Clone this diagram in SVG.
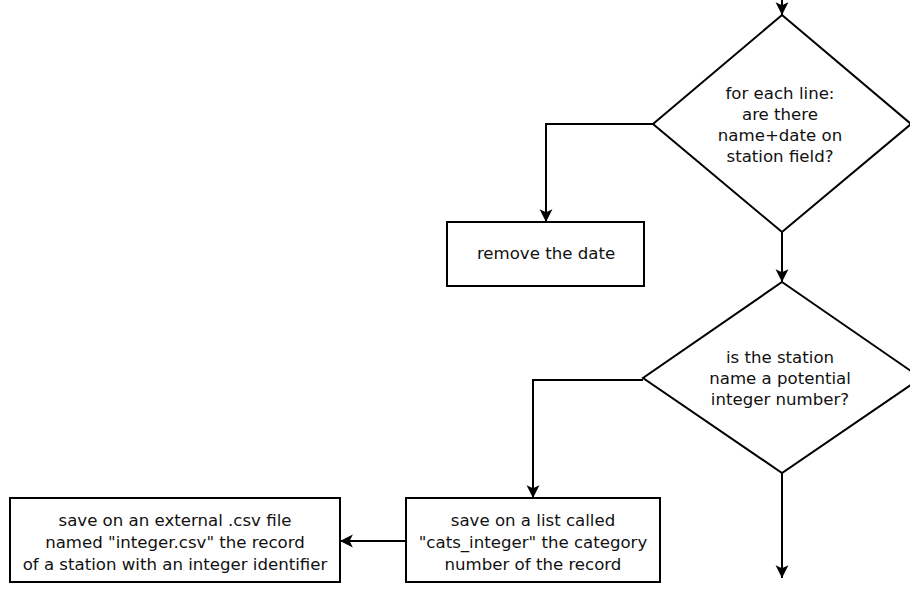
<svg xmlns="http://www.w3.org/2000/svg" width="910" height="603" viewBox="0 0 910 603">
  <defs>
    <marker id="arrow" viewBox="0 0 14 14" refX="13" refY="7" markerWidth="15" markerHeight="15" markerUnits="userSpaceOnUse" orient="auto">
      <path d="M13,7 L1,1 L4,7 L1,13 Z" fill="#000"/>
    </marker>
  </defs>
  <style>
    .shape { fill: #fff; stroke: #000; stroke-width: 2; }
    .edge { fill: none; stroke: #000; stroke-width: 2; marker-end: url(#arrow); }
    .label { font-family: "DejaVu Sans", sans-serif; font-size: 16.6px; fill: #111; text-anchor: middle; }
  </style>
  <rect width="910" height="603" fill="#fff"/>

  <g id="connectors">
    <path class="edge" d="M782,-4 L782,15"/>
    <path class="edge" d="M782,232 L782,282"/>
    <path class="edge" d="M653,124 L546,124 L546,222"/>
    <path class="edge" d="M643,380 L533,380 L533,498"/>
    <path class="edge" d="M406,541 L340,541"/>
    <path class="edge" d="M782,473 L782,578"/>
  </g>

  <g id="check-name-date">
    <polygon class="shape" points="782,15 911,124 782,232 653,124"/>
    <text class="label" x="780" y="99">for each line:</text>
    <text class="label" x="780" y="120">are there</text>
    <text class="label" x="780" y="141">name+date on</text>
    <text class="label" x="780" y="162">station field?</text>
  </g>

  <g id="remove-date">
    <rect class="shape" x="447" y="222" width="197" height="64"/>
    <text class="label" x="546" y="259">remove the date</text>
  </g>

  <g id="check-integer">
    <polygon class="shape" points="782,282 921,378 782,473 643,378"/>
    <text class="label" x="780" y="363">is the station</text>
    <text class="label" x="780" y="384">name a potential</text>
    <text class="label" x="780" y="405">integer number?</text>
  </g>

  <g id="save-list">
    <rect class="shape" x="406" y="498" width="254" height="84"/>
    <text class="label" x="533" y="526">save on a list called</text>
    <text class="label" x="533" y="548">"cats_integer" the category</text>
    <text class="label" x="533" y="570">number of the record</text>
  </g>

  <g id="save-csv">
    <rect class="shape" x="10" y="498" width="330" height="84"/>
    <text class="label" x="175" y="526">save on an external .csv file</text>
    <text class="label" x="175" y="548">named "integer.csv" the record</text>
    <text class="label" x="175" y="570">of a station with an integer identifier</text>
  </g>
</svg>
